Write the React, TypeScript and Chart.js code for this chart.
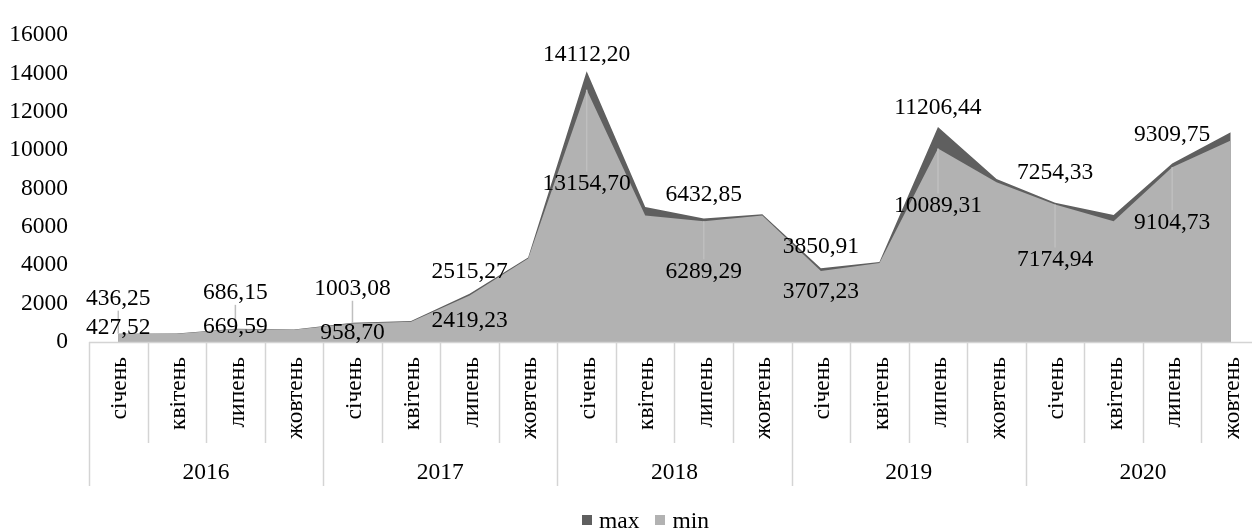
import React, { useEffect, useRef } from 'react';
import { Chart, registerables } from 'chart.js';

Chart.register(...registerables);

const years = ['2016', '2017', '2018', '2019', '2020'];
const months = ['січень', 'квітень', 'липень', 'жовтень'];
const categories = years.flatMap((y) => months.map((m) => `${m} ${y}`));

const maxValues = [
  436.25, 445, 686.15, 655, 1003.08, 1090, 2515.27, 4400,
  14112.2, 7040, 6432.85, 6660, 3850.91, 4170, 11206.44, 8500,
  7254.33, 6620, 9309.75, 10930,
];
const minValues = [
  427.52, 435, 669.59, 640, 958.7, 1060, 2419.23, 4350,
  13154.7, 6590, 6289.29, 6600, 3707.23, 4120, 10089.31, 8330,
  7174.94, 6300, 9104.73, 10510,
];

// vertical shift (px) of each value label from its point; null = no label
const maxLabelShift = [-35, null, -36, null, -34, null, -22, null, -16, null, -24, null, -21, null, -19, null, -30, null, -29, null];
const minLabelShift = [-6, null, -2, null, 9, null, 25, null, 94, null, 50, null, 21, null, 57, null, 55, null, 55, null];

const MAX_COLOR = '#5f5f5f';
const MIN_COLOR = '#b2b2b2';
const FONT_FAMILY = '"Liberation Serif", "Times New Roman", serif';
const FONT_SIZE = 23.5;

const fmt = (v: number) => v.toFixed(2).replace('.', ',');

const drawPlugin = {
  id: 'multiAxisAndLabels',
  afterDatasetsDraw(chart: any) {
    const { ctx, chartArea, scales } = chart;
    const xs = scales.x;
    const ys = scales.y;
    const n = categories.length;
    const step = xs.getPixelForValue(1) - xs.getPixelForValue(0);
    const axisY = ys.getPixelForValue(0);
    ctx.save();

    // axis line and tick separators
    ctx.strokeStyle = '#d4d4d4';
    ctx.lineWidth = 1.5;
    ctx.beginPath();
    ctx.moveTo(chartArea.left, axisY + 0.5);
    ctx.lineTo(chartArea.right, axisY + 0.5);
    ctx.stroke();
    for (let i = 0; i <= n; i++) {
      const bx = Math.round(xs.getPixelForValue(0) - step / 2 + i * step) + 0.5;
      const isYear = i % months.length === 0;
      ctx.beginPath();
      ctx.moveTo(bx, axisY);
      ctx.lineTo(bx, axisY + (isYear ? 144 : 101));
      ctx.stroke();
    }

    ctx.fillStyle = '#000';
    ctx.font = `${FONT_SIZE}px ${FONT_FAMILY}`;
    // month labels (rotated)
    for (let i = 0; i < n; i++) {
      const cx = xs.getPixelForValue(i);
      ctx.save();
      ctx.translate(cx + 2, axisY + 15);
      ctx.rotate(-Math.PI / 2);
      ctx.textAlign = 'right';
      ctx.textBaseline = 'middle';
      ctx.fillText(months[i % months.length], 0, 0);
      ctx.restore();
    }
    // year labels
    ctx.textAlign = 'center';
    ctx.textBaseline = 'middle';
    years.forEach((yr, g) => {
      const first = xs.getPixelForValue(g * months.length);
      const last = xs.getPixelForValue(g * months.length + months.length - 1);
      ctx.fillText(yr, (first + last) / 2, axisY + 131);
    });

    // value labels with leader lines
    const half = 9;
    const drawLabel = (vals: number[], shifts: (number | null)[], below: boolean) => {
      vals.forEach((v, i) => {
        const s = shifts[i];
        if (s === null || s === undefined) return;
        const px = xs.getPixelForValue(i);
        const py = ys.getPixelForValue(v);
        const ly = py + s;
        ctx.strokeStyle = '#bfbfbf';
        ctx.lineWidth = 1.5;
        if (!below && py - (ly + half) > 21) {
          ctx.beginPath();
          ctx.moveTo(px, ly + half + 3);
          ctx.lineTo(px, py);
          ctx.stroke();
        }
        if (below && ly - half - py > 21) {
          ctx.beginPath();
          ctx.moveTo(px, py);
          ctx.lineTo(px, ly - half - 3);
          ctx.stroke();
        }
        ctx.fillStyle = '#000';
        ctx.fillText(fmt(v), px, ly);
      });
    };
    drawLabel(maxValues, maxLabelShift, false);
    drawLabel(minValues, minLabelShift, true);
    ctx.restore();
  },
};

export default function App() {
  const canvasRef = useRef<HTMLCanvasElement>(null);

  useEffect(() => {
    const chart = new Chart(canvasRef.current as HTMLCanvasElement, {
      type: 'line',
      data: {
        labels: categories,
        datasets: [
          {
            label: 'max',
            data: maxValues,
            backgroundColor: MAX_COLOR,
            borderColor: 'rgba(0,0,0,0)',
            borderWidth: 0,
            fill: 'origin',
            pointRadius: 0,
            tension: 0,
            order: 1,
          },
          {
            label: 'min',
            data: minValues,
            backgroundColor: MIN_COLOR,
            borderColor: 'rgba(0,0,0,0)',
            borderWidth: 0,
            fill: 'origin',
            pointRadius: 0,
            tension: 0,
            order: 0,
          },
        ],
      },
      options: {
        animation: false,
        responsive: true,
        maintainAspectRatio: false,
        layout: { padding: { top: 27, left: 8, right: 2, bottom: 190 } },
        plugins: {
          legend: { display: false },
          tooltip: { enabled: false },
        },
        scales: {
          x: { type: 'category', display: false, offset: true },
          y: {
            min: 0,
            max: 16000,
            ticks: {
              stepSize: 2000,
              padding: 21,
              color: '#000',
              font: { family: FONT_FAMILY, size: FONT_SIZE },
              callback: (v: any) => String(v),
            },
            grid: { display: false, drawTicks: false },
            border: { display: false },
            afterFit: (scale: any) => {
              scale.width = 81;
            },
          },
        },
      },
      plugins: [drawPlugin],
    });
    return () => chart.destroy();
  }, []);

  const sq = (c: string, ml: number) => (
    <span style={{ display: 'inline-block', width: 10, height: 10, background: c, marginRight: 7, marginLeft: ml }} />
  );

  return (
    <div style={{ position: 'absolute', left: 0, top: 0, width: 1252, height: 532, overflow: 'hidden', background: '#fff' }}>
      <div style={{ position: 'relative', width: 1262, height: 532 }}>
        <canvas ref={canvasRef} />
      </div>
      <div
        style={{
          position: 'absolute',
          left: 582,
          top: 508,
          display: 'flex',
          alignItems: 'center',
          fontFamily: FONT_FAMILY,
          fontSize: FONT_SIZE,
          lineHeight: '24px',
          color: '#000',
          whiteSpace: 'nowrap',
        }}
      >
        {sq(MAX_COLOR, 0)}
        <span>max</span>
        {sq(MIN_COLOR, 16)}
        <span>min</span>
      </div>
    </div>
  );
}
